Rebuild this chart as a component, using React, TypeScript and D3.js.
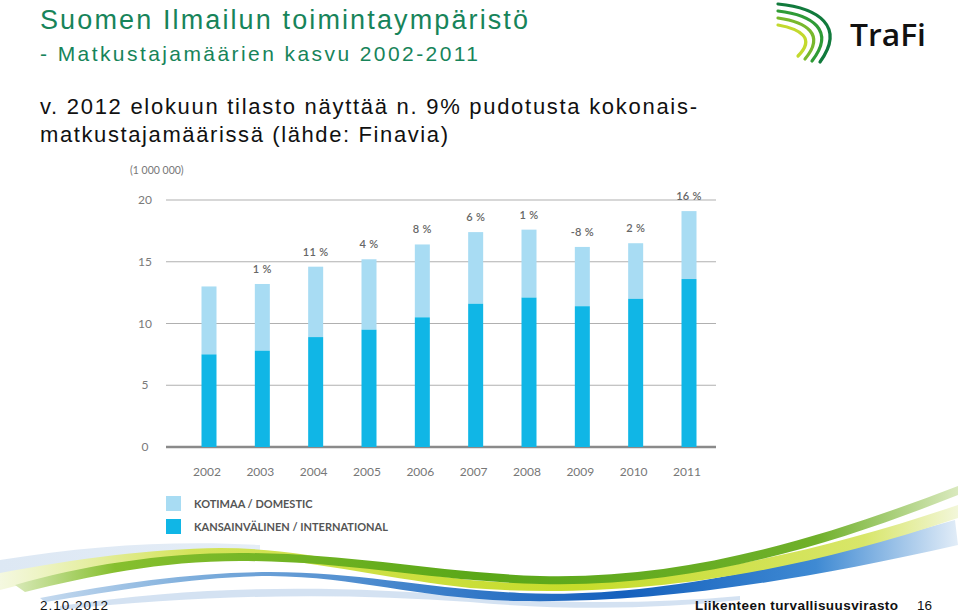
import React from 'react';
import * as d3 from 'd3';

const W = 960, H = 615;

// values in millions
const years = ['2002', '2003', '2004', '2005', '2006', '2007', '2008', '2009', '2010', '2011'];
const international = [7.5, 7.8, 8.9, 9.5, 10.5, 11.6, 12.1, 11.4, 12.0, 13.6];
const domestic = [5.5, 5.4, 5.7, 5.7, 5.9, 5.8, 5.5, 4.8, 4.5, 5.5];
const growth = ['', '1 %', '11 %', '4 %', '8 %', '6 %', '1 %', '-8 %', '2 %', '16 %'];
const yTicks = [0, 5, 10, 15, 20];

const lightBlue = '#a8dcf3';
const darkBlue = '#10b6e6';
const chartFont = 'Lato, "Open Sans", sans-serif';
const slideFont = '"Liberation Sans", Arial, sans-serif';

const x = d3.scalePoint<string>().domain(years).range([209, 689]);
const y = d3.scaleLinear().domain([0, 20]).range([447, 200]);
const barW = 15;

const stacked = years.map((yr, i) => ({ yr, intl: international[i], dom: domestic[i], g: growth[i] }));

const Logo = () => {
  const arcs = [
    { d: 'M778,4 C818,8 846,26 820,62', c: '#117a3c' },
    { d: 'M778,11 C812,15 836,30 812,61', c: '#2f9b36' },
    { d: 'M778,18 C806,22 826,34 805,59', c: '#78b82c' },
    { d: 'M778,25 C800,29 816,38 798,56', c: '#c3d92e' },
  ];
  return (
    <g>
      {arcs.map((a, i) => (
        <path key={i} d={a.d} fill="none" stroke={a.c} strokeWidth={3.2} strokeLinecap="round" />
      ))}
      <text x={850} y={46} fontFamily={'"Open Sans", sans-serif'} fontSize={30} fontWeight={600} fill="#111" textLength={76} lengthAdjust="spacingAndGlyphs">TraFi</text>
    </g>
  );
};

const Swoosh = () => (
  <g>
    <defs>
      <linearGradient id="blueG" x1="0" x2="960" y1="0" y2="0" gradientUnits="userSpaceOnUse">
        <stop offset="0" stopColor="#d9e6f4" />
        <stop offset="0.2" stopColor="#7eaedc" />
        <stop offset="0.45" stopColor="#3b7fca" />
        <stop offset="0.65" stopColor="#1560bd" />
        <stop offset="0.85" stopColor="#3f8ad3" />
        <stop offset="1" stopColor="#e4eef8" />
      </linearGradient>
      <linearGradient id="greenG" x1="0" x2="960" y1="0" y2="0" gradientUnits="userSpaceOnUse">
        <stop offset="0" stopColor="#e4efcb" />
        <stop offset="0.12" stopColor="#86bf2e" />
        <stop offset="0.5" stopColor="#5aa718" />
        <stop offset="0.85" stopColor="#6fb02a" />
        <stop offset="1" stopColor="#dbeac0" />
      </linearGradient>
      <linearGradient id="yellowG" x1="0" x2="960" y1="0" y2="0" gradientUnits="userSpaceOnUse">
        <stop offset="0" stopColor="#f4f8e0" />
        <stop offset="0.2" stopColor="#d4e35a" />
        <stop offset="0.6" stopColor="#c6dc2a" />
        <stop offset="0.9" stopColor="#d8e66a" />
        <stop offset="1" stopColor="#f3f7dc" />
      </linearGradient>
      <linearGradient id="paleG" x1="0" x2="960" y1="0" y2="0" gradientUnits="userSpaceOnUse">
        <stop offset="0" stopColor="#dde8f4" />
        <stop offset="0.3" stopColor="#e6eef7" />
        <stop offset="0.5" stopColor="#ffffff" />
      </linearGradient>
    </defs>
    {/* pale band upper left */}
    <path d="M0,560 C90,545 180,540 260,545 L260,552 C180,550 90,560 0,585 Z" fill="url(#paleG)" />
    {/* pale band under the blue */}
    <path d="M60,606 C200,585 330,585 470,596 C560,604 650,604 740,596 L740,600 C650,610 560,610 470,602 C330,592 200,595 60,610 Z" fill="#c9dbef" opacity={0.8} />
    {/* blue ribbon */}
    <path d="M40,598 C120,582 200,572 270,572 C360,572 420,588 520,593 C640,598 760,575 955,520 L958,545 C780,585 650,603 520,601 C420,599 360,577 270,576 C200,576 120,590 45,602 Z" fill="url(#blueG)" />
    {/* yellow ribbon */}
    <path d="M0,573 C80,558 150,549 220,548 C300,548 380,570 470,580 C600,592 760,572 958,505 L958,518 C760,585 600,598 470,588 C380,578 300,557 220,556 C150,556 80,570 0,590 Z" fill="url(#yellowG)" />
    {/* green ribbon */}
    <path d="M15,585 C80,566 160,553 240,553 C350,553 430,572 540,576 C690,580 830,535 958,486 L958,495 C830,546 690,588 540,584 C430,581 350,561 240,561 C160,561 90,576 25,592 Z" fill="url(#greenG)" />
  </g>
);

export default function App() {
  return (
    <div style={{ position: 'absolute', left: 0, top: 0 }}>
      <svg width={W} height={H} viewBox={`0 0 ${W} ${H}`} style={{ display: 'block', background: '#fff' }}>
        <rect width={W} height={H} fill="#fff" />
        <Swoosh />

        {/* slide text */}
        <text x={40} y={29} fontFamily={slideFont} fontSize={27} fill="#17845a" textLength={488} lengthAdjust="spacing">Suomen Ilmailun toimintaympäristö</text>
        <text x={40} y={61} fontFamily={slideFont} fontSize={21} fill="#17845a" textLength={438} lengthAdjust="spacing">- Matkustajamäärien kasvu 2002-2011</text>
        <text x={40} y={114} fontFamily={slideFont} fontSize={22} fill="#111" textLength={657} lengthAdjust="spacing">v. 2012 elokuun tilasto näyttää n. 9% pudotusta kokonais-</text>
        <text x={40} y={142} fontFamily={slideFont} fontSize={22} fill="#111" textLength={408} lengthAdjust="spacing">matkustajamäärissä (lähde: Finavia)</text>
        <Logo />

        {/* chart */}
        <text x={130} y={174} fontFamily={chartFont} fontSize={10.5} fill="#777">(1 000 000)</text>
        {yTicks.map(t => (
          <g key={t}>
            <line x1={166} x2={716} y1={y(t)} y2={y(t)} stroke={t === 0 ? '#8a8a8a' : '#b0b0b0'} strokeWidth={t === 0 ? 2.5 : 1.2} />
            <text x={145} y={y(t) + 4} textAnchor="middle" fontFamily={chartFont} fontSize={12} fill="#7a7a7a">{t}</text>
          </g>
        ))}
        {stacked.map(d => {
          const cx = x(d.yr)!;
          const total = d.intl + d.dom;
          return (
            <g key={d.yr}>
              <rect x={cx - barW / 2} y={y(total)} width={barW} height={y(d.intl) - y(total)} fill={lightBlue} />
              <rect x={cx - barW / 2} y={y(d.intl)} width={barW} height={y(0) - y(d.intl)} fill={darkBlue} />
              {d.g && (
                <text x={cx} y={y(total) - 11} textAnchor="middle" fontFamily={chartFont} fontSize={11} fontWeight={600} fill="#666" letterSpacing={0.3}>{d.g}</text>
              )}
              <text x={cx - 2} y={476} textAnchor="middle" fontFamily={chartFont} fontSize={12} fill="#777">{d.yr}</text>
            </g>
          );
        })}

        {/* legend */}
        <rect x={166} y={496} width={15} height={15} fill={lightBlue} />
        <text x={194} y={508} fontFamily={chartFont} fontSize={11} fontWeight={700} fill="#555">KOTIMAA / DOMESTIC</text>
        <rect x={166} y={519} width={15} height={15} fill={darkBlue} />
        <text x={194} y={531} fontFamily={chartFont} fontSize={11} fontWeight={700} fill="#555">KANSAINVÄLINEN / INTERNATIONAL</text>

        {/* footer */}
        <text x={40} y={610} fontFamily={slideFont} fontSize={13.5} fill="#111" textLength={68} lengthAdjust="spacing">2.10.2012</text>
        <text x={695} y={610} fontFamily={slideFont} fontSize={13.5} fontWeight={700} fill="#111" textLength={203} lengthAdjust="spacing">Liikenteen turvallisuusvirasto</text>
        <text x={917} y={610} fontFamily={slideFont} fontSize={13.5} fill="#111">16</text>
      </svg>
    </div>
  );
}
